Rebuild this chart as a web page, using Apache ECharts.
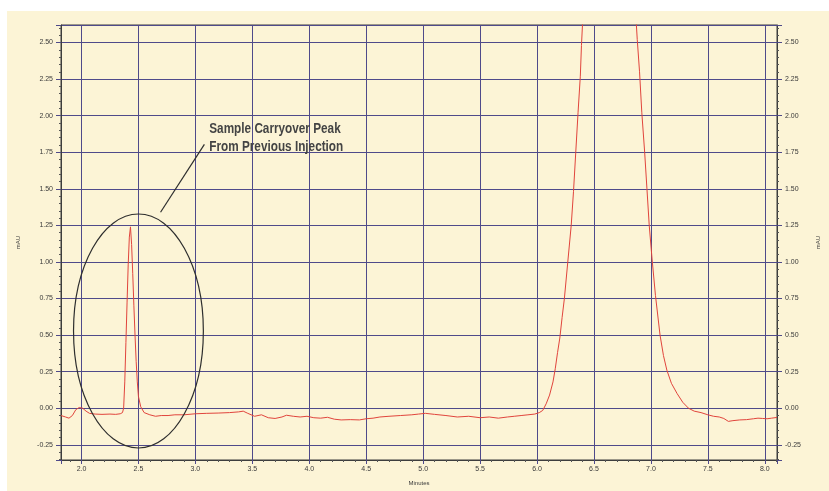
<!DOCTYPE html>
<html>
<head>
<meta charset="utf-8">
<script src="https://cdn.jsdelivr.net/npm/echarts@6/dist/echarts.min.js"></script>
<style>
  html, body { margin: 0; padding: 0; background: #ffffff; }
  #chart { position: absolute; left: 7px; top: 11px; width: 822px; height: 480px; }
</style>
</head>
<body>
<div id="chart"></div>
<script>
// ---- data ----
const times = [
  1.82, 1.86, 1.89, 1.92, 1.95, 1.98, 2.01, 2.04, 2.07, 2.12, 2.18, 2.25, 2.30, 2.34, 2.36,
  2.37, 2.38, 2.39, 2.40, 2.41, 2.42, 2.43, 2.44, 2.45, 2.46, 2.47, 2.48, 2.49, 2.50, 2.52,
  2.55, 2.60, 2.65, 2.70, 2.76, 2.82, 2.90, 3.00, 3.10, 3.20, 3.30, 3.38, 3.42, 3.46, 3.52,
  3.58, 3.64, 3.70, 3.76, 3.80, 3.86, 3.92, 3.98, 4.04, 4.10, 4.16, 4.22, 4.28, 4.36, 4.44,
  4.50, 4.56, 4.62, 4.70, 4.80, 4.90, 4.96, 5.02, 5.10, 5.20, 5.30, 5.40, 5.50, 5.58, 5.66,
  5.74, 5.80, 5.86, 5.92, 5.98, 6.02, 6.05, 6.08, 6.11, 6.14, 6.16, 6.18, 6.20, 6.22, 6.24,
  6.27, 6.30, 6.32, 6.34, 6.36, 6.38, 6.39, 6.42, 6.50, 6.60, 6.70, 6.80, 6.86, 6.88, 6.90,
  6.92, 6.945, 6.965, 6.985, 7.01, 7.04, 7.08, 7.11, 7.14, 7.18, 7.23, 7.28, 7.33, 7.38, 7.44,
  7.50, 7.55, 7.60, 7.64, 7.68, 7.72, 7.78, 7.84, 7.90, 7.94, 7.98, 8.02, 8.06, 8.107
];
const absorbance = [
  -0.05, -0.06, -0.068, -0.05, -0.01, 0.005, 0.0, -0.02, -0.035, -0.04, -0.042, -0.04, -0.042, -0.038, -0.03,
  0.0, 0.18, 0.45, 0.72, 0.98, 1.17, 1.24, 1.12, 0.92, 0.70, 0.50, 0.32, 0.18, 0.08, 0.01,
  -0.03, -0.045, -0.055, -0.05, -0.05, -0.045, -0.045, -0.038, -0.035, -0.033, -0.03, -0.025, -0.02, -0.035, -0.055,
  -0.045, -0.065, -0.07, -0.06, -0.048, -0.055, -0.06, -0.055, -0.065, -0.068, -0.062, -0.075, -0.08, -0.078, -0.08,
  -0.072, -0.068, -0.06, -0.055, -0.05, -0.045, -0.04, -0.035, -0.042, -0.05, -0.06, -0.055, -0.065, -0.06, -0.068,
  -0.06, -0.055, -0.05, -0.045, -0.04, -0.03, -0.015, 0.03, 0.09, 0.18, 0.27, 0.38, 0.48, 0.62, 0.75,
  1.00, 1.25, 1.48, 1.75, 2.02, 2.27, 2.48, 2.95, 3.8, 4.3, 4.2, 3.5, 2.78, 2.52, 2.30,
  2.02, 1.75, 1.50, 1.25, 1.02, 0.77, 0.50, 0.36, 0.26, 0.17, 0.10, 0.04, 0.0, -0.02, -0.03,
  -0.045, -0.055, -0.06, -0.07, -0.09, -0.085, -0.08, -0.078, -0.072, -0.068, -0.07, -0.072, -0.068, -0.063
];
const xRange = [1.82, 8.107];
const yRange = [-0.354, 2.62];
const xStep = 0.5;
const yStep = 0.25;
const xAxisName = 'Minutes';
const yAxisName = 'mAU';
const noteLines = ['Sample Carryover Peak', 'From Previous Injection'];
// annotation anchors in data units: [x, y]
const ellipseCenter = [2.5, 0.528];
const ellipseRadii = [0.570, 0.80];
const leaderFrom = [2.694, 1.34];
const leaderTo = [3.079, 1.804];
const noteAnchor = [3.122, 1.967];

// ---- chart ----
const gridColor = '#4f4a8a';
const frameColor = '#3d3d3d';
const labelFont = { fontSize: 7, color: '#3a3a3a', fontFamily: '"Liberation Sans", Arial, sans-serif' };

function valueAxisY(position, showSplit) {
  return {
    type: 'value', position: position,
    min: yRange[0], max: yRange[1],
    minInterval: yStep, maxInterval: yStep,
    name: yAxisName, nameLocation: 'middle', nameGap: position === 'left' ? 40 : 38,
    nameRotate: 90,
    nameTextStyle: Object.assign({}, labelFont, { fontSize: 6 }),
    axisLine: { show: true, onZero: false, lineStyle: { color: frameColor, width: 1 } },
    axisTick: { show: true, inside: false, length: 5, lineStyle: { color: gridColor } },
    minorTick: { show: true, splitNumber: 5, length: 2, lineStyle: { color: '#555' } },
    axisLabel: Object.assign({ margin: 8, showMinLabel: false, showMaxLabel: false,
      formatter: v => v.toFixed(2) }, labelFont),
    splitLine: { show: showSplit, lineStyle: { color: gridColor, width: 1 } }
  };
}

const chart = echarts.init(document.getElementById('chart'), null, { renderer: 'canvas' });
chart.setOption({
  backgroundColor: '#fcf4d6',
  animation: false,
  grid: { left: 53, top: 14, width: 724, height: 437, show: true, borderColor: frameColor, borderWidth: 1, backgroundColor: 'transparent' },
  xAxis: {
    type: 'value', min: xRange[0], max: xRange[1],
    minInterval: xStep, maxInterval: xStep,
    name: xAxisName, nameLocation: 'middle', nameGap: 20,
    nameTextStyle: Object.assign({}, labelFont, { fontSize: 6 }),
    axisLine: { show: true, onZero: false, lineStyle: { color: frameColor, width: 1 } },
    axisTick: { show: true, inside: false, length: 4, lineStyle: { color: gridColor } },
    minorTick: { show: true, splitNumber: 5, length: 2, lineStyle: { color: '#555' } },
    axisLabel: Object.assign({ margin: 6, showMinLabel: false, showMaxLabel: false,
      formatter: v => v.toFixed(1) }, labelFont),
    splitLine: { show: true, lineStyle: { color: gridColor, width: 1 } }
  },
  yAxis: [valueAxisY('left', true), valueAxisY('right', false)],
  series: [{
    type: 'line',
    xAxisIndex: 0, yAxisIndex: 0,
    data: times.map((t, i) => [t, absorbance[i]]),
    showSymbol: false, symbol: 'none',
    clip: true,
    lineStyle: { color: '#e0443c', width: 1 },
    z: 5
  }]
});

// annotation placed from data anchors through the chart's own scales
const c = chart.convertToPixel({ xAxisIndex: 0, yAxisIndex: 0 }, ellipseCenter);
const e = chart.convertToPixel({ xAxisIndex: 0, yAxisIndex: 0 },
  [ellipseCenter[0] + ellipseRadii[0], ellipseCenter[1] + ellipseRadii[1]]);
const p1 = chart.convertToPixel({ xAxisIndex: 0, yAxisIndex: 0 }, leaderFrom);
const p2 = chart.convertToPixel({ xAxisIndex: 0, yAxisIndex: 0 }, leaderTo);
const tp = chart.convertToPixel({ xAxisIndex: 0, yAxisIndex: 0 }, noteAnchor);
chart.setOption({
  graphic: [
    { type: 'ellipse', shape: { cx: c[0], cy: c[1], rx: Math.abs(e[0] - c[0]), ry: Math.abs(c[1] - e[1]) },
      style: { fill: 'none', stroke: '#2e2e2e', lineWidth: 1.2 }, z: 10 },
    { type: 'line', shape: { x1: p1[0], y1: p1[1], x2: p2[0], y2: p2[1] },
      style: { stroke: '#2e2e2e', lineWidth: 1.2 }, z: 10 },
    { type: 'text', x: tp[0], y: tp[1], scaleX: 0.84, z: 10,
      style: { text: noteLines.join('\n'), fill: '#444444', font: 'bold 14px "Liberation Sans", Arial, sans-serif',
        lineHeight: 18, verticalAlign: 'top' } }
  ]
});
</script>
</body>
</html>
